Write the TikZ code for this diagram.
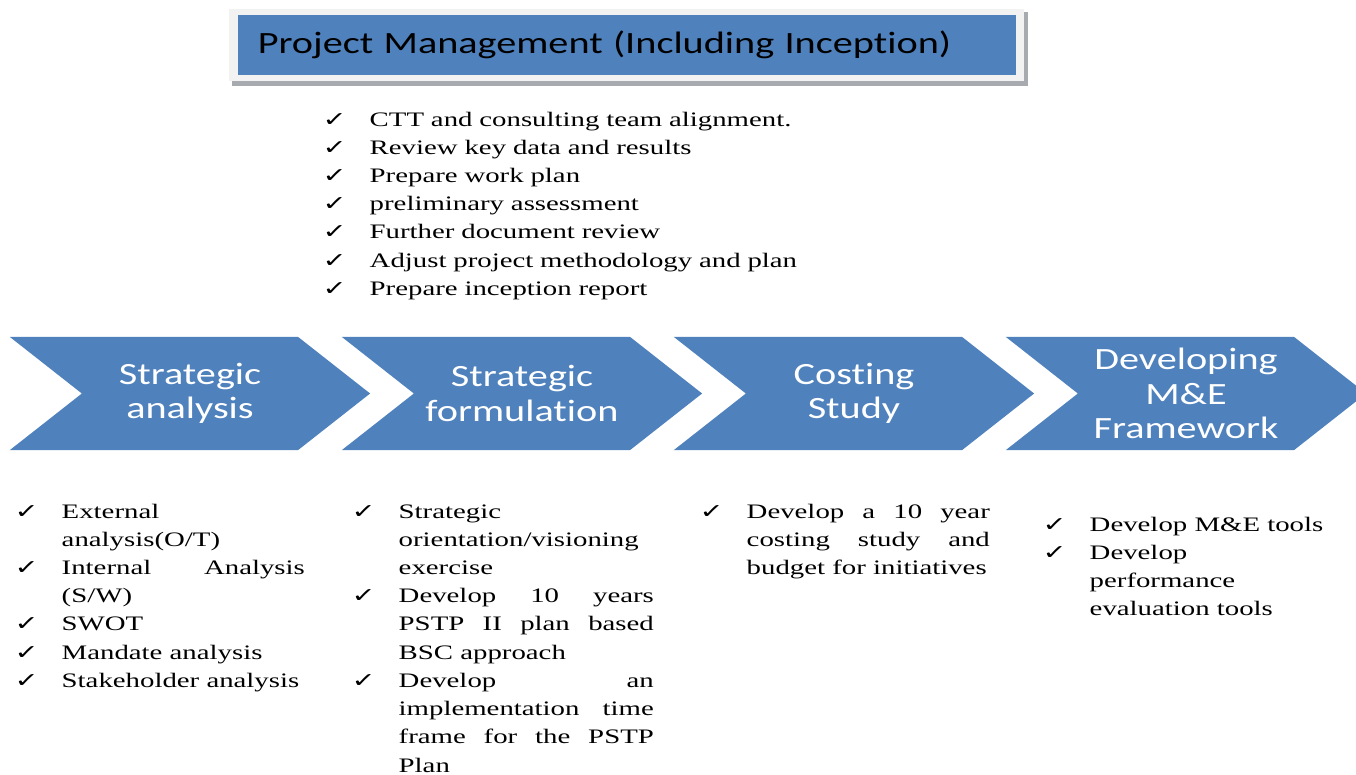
\documentclass[tikz,border=0pt]{standalone}
\usepackage{fontspec}
\setmainfont{Liberation Serif}[FakeStretch=1.4]
\newfontfamily\calfont{Carlito}[FakeStretch=1.3, RawFeature={-liga;-clig;-calt}]
\newfontfamily\tickfont{DejaVu Sans}[FakeStretch=1.4]
\usetikzlibrary{shapes.symbols, positioning, calc, backgrounds}

\definecolor{accent}{HTML}{4F81BD}
\definecolor{framegray}{HTML}{F2F2F2}
\definecolor{shadowgray}{HTML}{A7ABB0}

\newlength\tkw
\setlength\tkw{0.47cm}
\newcommand\itm[1]{\noindent\hangindent=\tkw\hangafter=1\relax\makebox[\tkw][l]{\tickfont ✓}#1\par}
\hbadness=10000

\begin{document}
\begin{tikzpicture}[
  x=0.01cm, y=-0.01cm,
  titlebox/.style={rectangle, fill=accent, minimum width=7.78cm, minimum height=0.6cm, inner xsep=0.2cm, inner ysep=0pt, text width=7.38cm, align=left, font=\calfont\fontsize{8.8}{9.8}\selectfont},
  stage/.style={signal, signal to=east, signal from=west, signal pointer angle=76.3, fill=accent, minimum width=3.6cm, minimum height=1.13cm, inner sep=0pt, align=center, text=white, font=\calfont\fontsize{8.8}{9.8}\selectfont},
  items/.style={anchor=base west, inner sep=0pt, text width=2.9cm, align=justify, font=\fontsize{5.85}{8.03}\selectfont}
]
  \useasboundingbox (0,0) rectangle (1356,775);

  % Title box
  \node[titlebox] (pm) at (627,45) {Project Management (Including Inception)};
  \begin{scope}[on background layer]
    \fill[shadowgray] ($(pm.north west)+(-5,-2)$) rectangle ($(pm.south east)+(11,10)$);
    \fill[framegray] ($(pm.north west)+(-8,-5)$) rectangle ($(pm.south east)+(7,5)$);
  \end{scope}

  % Inception tasks
  \node[items, text width=5.2cm, align=left] (pmitems) at (322,126) {%
    \itm{CTT and consulting team alignment.}
    \itm{Review key data and results}
    \itm{Prepare work plan}
    \itm{preliminary assessment}
    \itm{Further document review}
    \itm{Adjust project methodology and plan}
    \itm{Prepare inception report}};

  % Chevron row
  \node[stage] (sa) at (190,393.5) {Strategic\\analysis};
  \node[stage] (sf) at (522,393.5) {Strategic\\formulation};
  \node[stage] (cs) at (854,393.5) {Costing\\Study};
  \node[stage] (me) at (1186,393.5) {Developing\\M\&E\\Framework};

  % Tasks per stage
  \node[items] (saitems) at (14,518) {%
    \itm{External\linebreak analysis(O/T)}
    \itm{Internal Analysis\linebreak (S/W)}
    \itm{SWOT}
    \itm{Mandate analysis}
    \itm{Stakeholder analysis}};
  \node[items, text width=3.02cm] (sfitems) at (351,518) {%
    \itm{Strategic\linebreak orientation/visioning\linebreak exercise}
    \itm{Develop 10 years\linebreak PSTP II plan based\linebreak BSC approach}
    \itm{Develop an\linebreak implementation time\linebreak frame for the PSTP\linebreak Plan}};
  \node[items] (csitems) at (699,518) {%
    \itm{Develop a 10 year\linebreak costing study and\linebreak budget for initiatives}};
  \node[items] (meitems) at (1042,531) {%
    \itm{Develop M\&E tools}
    \itm{Develop\linebreak performance\linebreak evaluation tools}};
\end{tikzpicture}
\end{document}
